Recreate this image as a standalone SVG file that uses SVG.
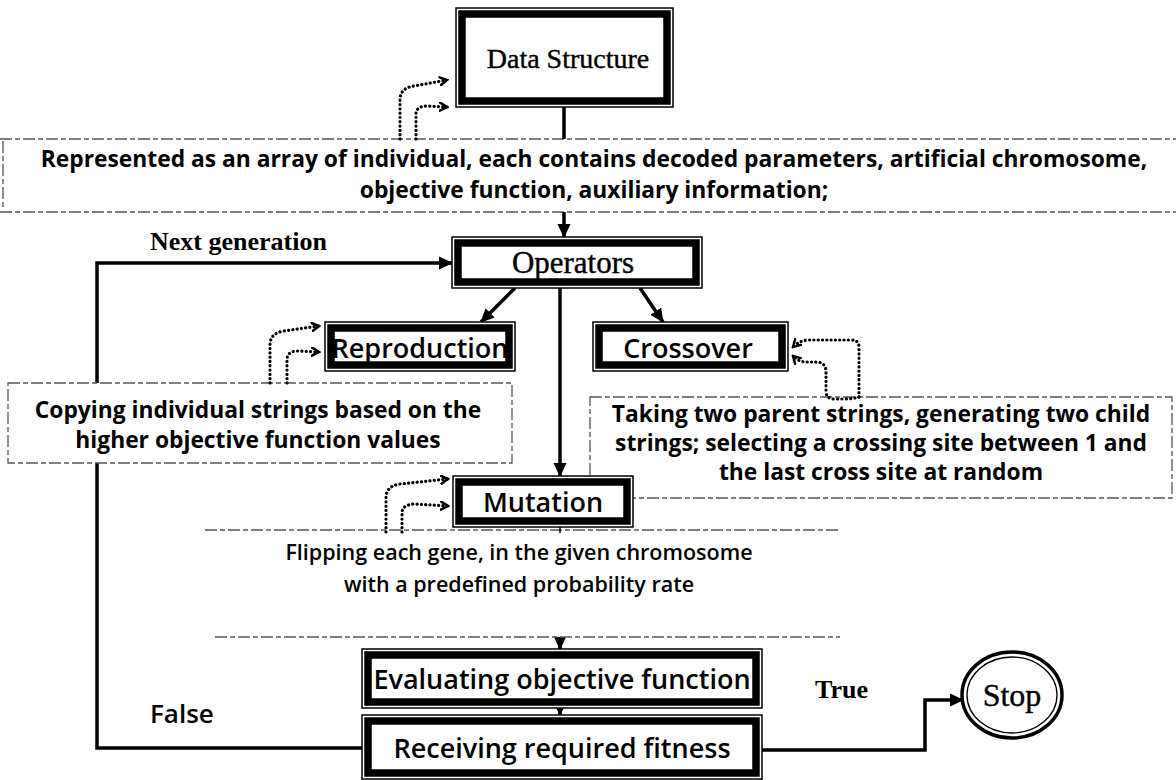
<svg xmlns="http://www.w3.org/2000/svg" width="1176" height="780" viewBox="0 0 1176 780">
  <style>
    .thin { fill: #fff; stroke: #000; stroke-width: 1.5; }
    .thick { fill: none; stroke: #000; stroke-width: 7.5; }
    .conn { fill: none; stroke: #000; stroke-width: 3.5; }
    .dot { fill: none; stroke: #000; stroke-width: 3.2; stroke-dasharray: 0.1 4.2; stroke-linecap: round; }
    .dash { fill: none; stroke: #555; stroke-width: 1.3; stroke-dasharray: 12 3 5 3; }
    .paper { fill: #fff; stroke: none; }
    .serif { font-family: "Liberation Serif", "Times New Roman", serif; fill: #000; stroke: #000; stroke-width: 0.4; }
    .serif-b { font-family: "Liberation Serif", "Times New Roman", serif; font-weight: 700; fill: #000; }
    .sans { font-family: "Open Sans", "Noto Sans", sans-serif; font-weight: 600; fill: #000; }
    .lbl { font-size: 27px; text-anchor: middle; }
    .desc { font-size: 22.8px; font-weight: 700; text-anchor: middle; }
    .desc-light { font-size: 21.5px; font-weight: 600; text-anchor: middle; }
  </style>
  <defs>
    <marker id="head" markerUnits="userSpaceOnUse" markerWidth="16" markerHeight="16" refX="13" refY="8" orient="auto">
      <path d="M0,1.5 L14,8 L0,14.5 Z" fill="#000"/>
    </marker>
    <marker id="tick" markerUnits="userSpaceOnUse" markerWidth="10" markerHeight="10" refX="8" refY="5" orient="auto">
      <path d="M1,1 L8,5 L1,9" fill="none" stroke="#000" stroke-width="2.5" stroke-linecap="round"/>
    </marker>
  </defs>

  <!-- description band under the data structure -->
  <g id="band-structure">
    <rect class="paper" x="0" y="139" width="1176" height="73"/>
    <line class="dash" x1="0" y1="139" x2="1176" y2="139"/>
    <line class="dash" x1="0" y1="212" x2="1176" y2="212"/>
    <line class="dash" x1="3" y1="141" x2="3" y2="210"/>
    <text class="sans desc" x="594" y="167">Represented as an array of individual, each contains decoded parameters, artificial chromosome,</text>
    <text class="sans desc" x="594" y="198">objective function, auxiliary information;</text>
  </g>

  <!-- connectors -->
  <g id="connectors">
    <line class="conn" x1="564" y1="107" x2="564" y2="139"/>
    <line class="conn" x1="564" y1="212" x2="564" y2="237" marker-end="url(#head)"/>
    <path class="conn" d="M364,748 H97 V263 H452" marker-end="url(#head)"/>
    <line class="conn" x1="515" y1="288" x2="481" y2="322" marker-end="url(#head)"/>
    <line class="conn" x1="640" y1="288" x2="663" y2="322" marker-end="url(#head)"/>
    <line class="conn" x1="560" y1="288" x2="560" y2="476" marker-end="url(#head)"/>
    <line class="conn" x1="560" y1="637" x2="560" y2="649" marker-end="url(#head)"/>
    <line class="conn" x1="560" y1="706" x2="560" y2="715" marker-end="url(#head)"/>
    <path class="conn" d="M762,750 H925 V700 H963" marker-end="url(#head)"/>
  </g>

  <g id="desc-reproduction">
    <rect class="paper" x="8" y="383" width="504" height="80"/>
    <rect class="dash" x="8" y="383" width="504" height="80"/>
    <text class="sans desc" x="258" y="418">Copying individual strings based on the</text>
    <text class="sans desc" x="258" y="448">higher objective function values</text>
  </g>

  <g id="desc-crossover">
    <rect class="paper" x="590" y="397" width="582" height="101"/>
    <rect class="dash" x="590" y="397" width="582" height="101"/>
    <text class="sans desc" x="881" y="422">Taking two parent strings, generating two child</text>
    <text class="sans desc" x="881" y="451">strings; selecting a crossing site between 1 and</text>
    <text class="sans desc" x="881" y="480">the last cross site at random</text>
  </g>

  <g id="band-mutation">
    <rect class="paper" x="205" y="530" width="635" height="107"/>
    <line class="dash" x1="205" y1="530" x2="840" y2="530"/>
    <line class="dash" x1="215" y1="637" x2="840" y2="637"/>
    <line stroke="#000" stroke-width="1.5" x1="560" y1="527" x2="560" y2="533"/>
    <text class="sans desc-light" x="519" y="560">Flipping each gene, in the given chromosome</text>
    <text class="sans desc-light" x="519" y="592">with a predefined probability rate</text>
  </g>

  <!-- dotted self-loops beside the operator nodes -->
  <g id="loops">
    <path class="dot" d="M400,139 V100 Q400,88 414,86 L447,80" marker-end="url(#tick)"/>
    <path class="dot" d="M416,139 V114 Q416,106 428,106 L447,107" marker-end="url(#tick)"/>
    <path class="dot" d="M270,383 V345 Q270,333 284,331 L319,326" marker-end="url(#tick)"/>
    <path class="dot" d="M287,383 V360 Q287,351 298,351 L319,352" marker-end="url(#tick)"/>
    <path class="dot" d="M386,532 V498 Q386,486 400,484 L448,479" marker-end="url(#tick)"/>
    <path class="dot" d="M402,532 V513 Q402,505 414,504 L448,506" marker-end="url(#tick)"/>
    <path class="dot" d="M859,397 V347 Q859,340 851,340 L810,340 Q800,340 793,347" marker-end="url(#tick)"/>
    <path class="dot" d="M859,397 Q853,399 843,399 L834,399 Q826,399 826,391 V372 Q826,362 816,362 L806,362 Q799,362 793,356" marker-end="url(#tick)"/>
  </g>

  <g id="node-data-structure">
    <rect class="thin" x="456" y="8" width="217" height="99"/>
    <rect class="thick" x="462" y="14" width="205" height="87"/>
    <text class="serif" x="568" y="68" font-size="28" text-anchor="middle">Data Structure</text>
  </g>

  <g id="node-operators">
    <rect class="thin" x="452" y="237" width="250" height="51"/>
    <rect class="thick" x="458" y="243" width="238" height="39"/>
    <text class="serif" x="573" y="273" font-size="31" text-anchor="middle">Operators</text>
  </g>

  <g id="node-reproduction">
    <rect class="thin" x="325" y="322" width="190" height="49"/>
    <rect class="thick" x="331" y="328" width="178" height="37"/>
    <text class="sans lbl" x="420" y="358">Reproduction</text>
  </g>

  <g id="node-crossover">
    <rect class="thin" x="593" y="322" width="195" height="49"/>
    <rect class="thick" x="599" y="328" width="183" height="37"/>
    <text class="sans lbl" x="688" y="358">Crossover</text>
  </g>

  <g id="node-mutation">
    <rect class="thin" x="453" y="476" width="180" height="51"/>
    <rect class="thick" x="459" y="482" width="168" height="39"/>
    <text class="sans lbl" x="543" y="512">Mutation</text>
  </g>

  <g id="node-evaluating">
    <rect class="thin" x="362" y="649" width="400" height="59"/>
    <rect class="thick" x="368" y="655" width="388" height="47"/>
    <text class="sans lbl" x="562" y="689">Evaluating objective function</text>
  </g>

  <g id="node-receiving">
    <rect class="thin" x="362" y="715" width="400" height="64"/>
    <rect class="thick" x="368" y="721" width="388" height="52"/>
    <text class="sans lbl" x="562" y="758">Receiving required fitness</text>
  </g>

  <g id="node-stop">
    <ellipse cx="1012" cy="695" rx="50" ry="43" fill="#fff" stroke="#000" stroke-width="3.5"/>
    <ellipse cx="1012" cy="695" rx="45" ry="38" fill="none" stroke="#000" stroke-width="1.3"/>
    <text class="serif" x="1012" y="706" font-size="32" text-anchor="middle">Stop</text>
  </g>

  <g id="edge-labels">
    <text class="serif-b" x="150" y="250" font-size="26">Next generation</text>
    <text class="sans" x="150" y="723" font-size="26">False</text>
    <text class="serif-b" x="815" y="698" font-size="26">True</text>
  </g>
</svg>
